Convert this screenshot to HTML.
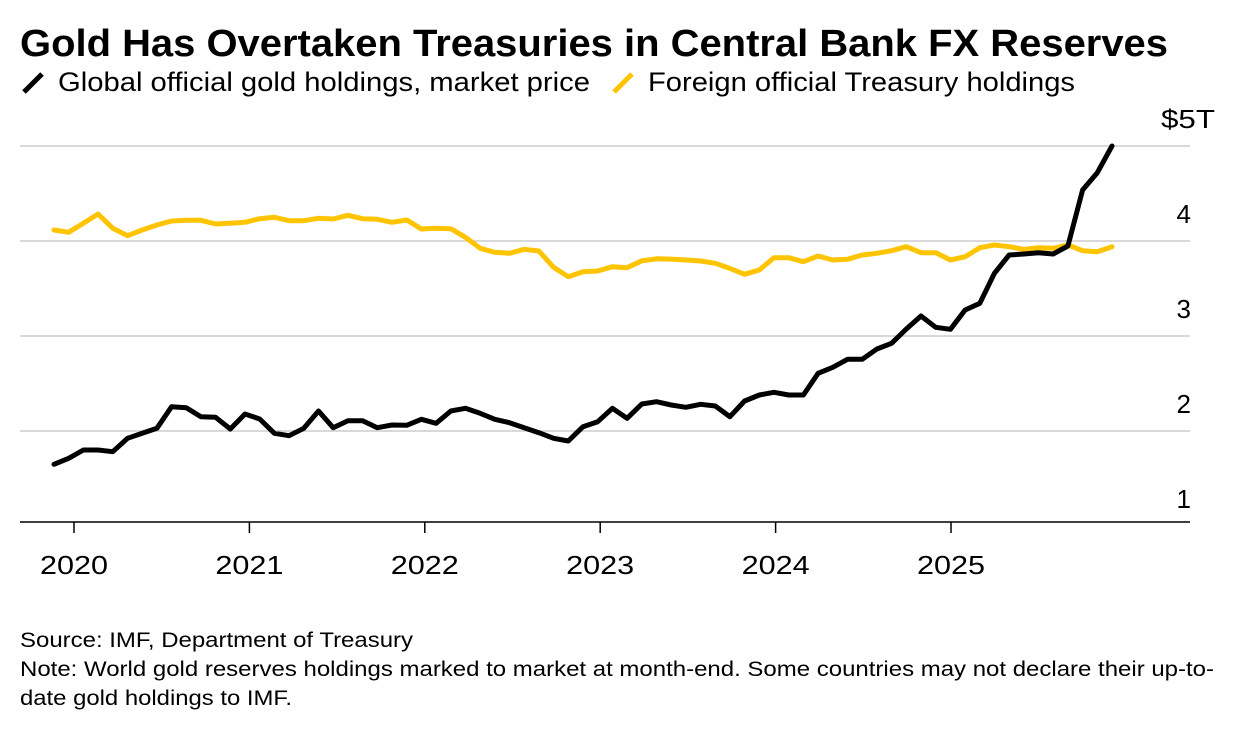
<!DOCTYPE html>
<html><head><meta charset="utf-8"><style>
html,body{margin:0;padding:0;background:#fff;}
body{width:1236px;height:732px;overflow:hidden;font-family:"Liberation Sans",sans-serif;}
</style></head><body>
<svg id="chart" width="1236" height="732" xmlns="http://www.w3.org/2000/svg" font-family="Liberation Sans, sans-serif">
<text x="20" y="56" font-size="38" font-weight="bold" fill="#000" textLength="1148" lengthAdjust="spacingAndGlyphs">Gold Has Overtaken Treasuries in Central Bank FX Reserves</text>
<g>
<line x1="24" y1="92" x2="42" y2="74" stroke="#000" stroke-width="5"/>
<text x="58" y="91" font-size="27" fill="#000" textLength="532" lengthAdjust="spacingAndGlyphs">Global official gold holdings, market price</text>
<line x1="614" y1="92" x2="632" y2="74" stroke="#ffc400" stroke-width="5"/>
<text x="648" y="91" font-size="27" fill="#000" textLength="427" lengthAdjust="spacingAndGlyphs">Foreign official Treasury holdings</text>
</g>
<g id="grid"></g>
<g id="axes"></g>
<g id="series"></g>
<text x="20" y="647" font-size="21" fill="#000" textLength="393" lengthAdjust="spacingAndGlyphs">Source: IMF, Department of Treasury</text>
<text x="20" y="676" font-size="21" fill="#000" textLength="1194" lengthAdjust="spacingAndGlyphs">Note: World gold reserves holdings marked to market at month-end. Some countries may not declare their up-to-</text>
<text x="20" y="705" font-size="21" fill="#000" textLength="272" lengthAdjust="spacingAndGlyphs">date gold holdings to IMF.</text>
</svg>
<script>
const yTicks = [1, 2, 3, 4, 5];
const yTickLabels = ["1", "2", "3", "4", "$5T"];
const xYears = ["2020", "2021", "2022", "2023", "2024", "2025"];
const goldValues = [1.649,1.713,1.80,1.80,1.782,1.923,1.976,2.028,2.256,2.245,2.151,2.144,2.021,2.179,2.126,1.976,1.951,2.028,2.211,2.035,2.108,2.108,2.035,2.063,2.06,2.123,2.081,2.211,2.239,2.186,2.123,2.087,2.035,1.982,1.923,1.895,
2.045,2.098,2.239,2.134,2.284,2.308,2.274,2.249,2.281,2.263,2.151,2.316,2.379,2.407,2.379,2.379,2.607,2.671,2.755,2.755,2.863,2.923,3.074,3.211,3.092,3.071,3.274,3.344,3.66,3.853,3.863,3.877,3.863,3.947,4.537,4.719,5.0];
const treasuryValues = [4.116,4.092,4.186,4.284,4.134,4.056,4.116,4.168,4.211,4.218,4.218,4.179,4.186,4.197,4.235,4.249,4.214,4.214,4.239,4.232,4.271,4.235,4.228,4.197,4.221,4.126,4.134,4.129,4.039,3.923,3.881,3.871,3.913,3.895,3.723,3.624,3.677,
3.684,3.729,3.719,3.792,3.813,3.81,3.8,3.789,3.765,3.712,3.649,3.695,3.824,3.824,3.782,3.842,3.8,3.807,3.853,3.871,3.898,3.94,3.877,3.877,3.8,3.835,3.929,3.958,3.94,3.913,3.929,3.923,3.958,3.898,3.887,3.94];

const NS = "http://www.w3.org/2000/svg";
const step = (1112 - 54) / 72;
function xScale(i) { return 54 + i * step; }
function yScale(v) { return 146 + (5 - v) * 95; }
function yearX(k) { return 74 + k * 175.4; }
function mk(tag, attrs, parent) {
  const e = document.createElementNS(NS, tag);
  for (const k in attrs) e.setAttribute(k, attrs[k]);
  parent.appendChild(e);
  return e;
}
const grid = document.getElementById('grid');
const axes = document.getElementById('axes');
const series = document.getElementById('series');
yTicks.forEach((t, j) => {
  if (t > 1) {
    const l = mk('line', {x1: 20, x2: 1190, y1: yScale(t), y2: yScale(t), stroke: '#d9d9d9', 'stroke-width': 2}, grid);
    
    
  }
  const last = j === yTicks.length - 1;
  const tx = mk('text', last ? {x: 1161, y: yScale(t) - 18, 'font-size': 26, fill: '#000', textLength: 54, lengthAdjust: 'spacingAndGlyphs'} : {x: 1191, y: yScale(t) - 18, 'font-size': 26, 'text-anchor': 'end', fill: '#000'}, axes);
  tx.textContent = yTickLabels[j];
  
  
});
const base = mk('line', {x1: 20, x2: 1190, y1: 522, y2: 522, stroke: '#000', 'stroke-width': 1.5}, axes);


xYears.forEach((yr, k) => {
  const x = yearX(k);
  const tk = mk('line', {x1: x, x2: x, y1: 522, y2: 533, stroke: '#000', 'stroke-width': 1.5}, axes);
  
  
  const tx = mk('text', {x: x - 34, y: 574, 'font-size': 26, fill: '#000', textLength: 68, lengthAdjust: 'spacingAndGlyphs'}, axes);
  tx.textContent = yr;
  
  
});
function pts(arr) { return arr.map((v, i) => xScale(i).toFixed(1) + ',' + yScale(v).toFixed(1)).join(' '); }
const tl = mk('polyline', {points: pts(treasuryValues), fill: 'none', stroke: '#ffc400', 'stroke-width': 5, 'stroke-linejoin': 'round', 'stroke-linecap': 'round'}, series);


const gl = mk('polyline', {points: pts(goldValues), fill: 'none', stroke: '#000', 'stroke-width': 5, 'stroke-linejoin': 'round', 'stroke-linecap': 'round'}, series);


</script>
</body></html>
